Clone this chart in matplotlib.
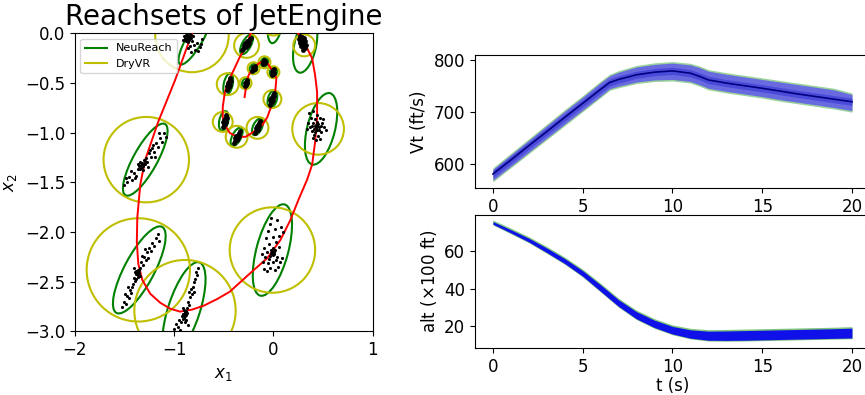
import numpy as np
import matplotlib
matplotlib.use("Agg")
import matplotlib.pyplot as plt
from matplotlib.patches import Ellipse, Circle
from matplotlib.lines import Line2D

# ---------------- left panel data ----------------
# reference trajectory (red)
traj_x = [-0.82, -0.99, -1.16, -1.29, -1.34, -1.37, -1.375, -1.36, -1.32, -1.24, -1.14, -1.04, -0.94, -0.82,
          -0.70, -0.56, -0.44, -0.23, -0.06, 0.07, 0.17, 0.25, 0.34, 0.39, 0.42, 0.44, 0.44, 0.42,
          0.39, 0.34, 0.29, 0.25, 0.18, 0.08, -0.02, -0.12, -0.20, -0.23,
          -0.27, -0.34, -0.40, -0.46, -0.49, -0.51, -0.51, -0.49, -0.44, -0.37, -0.28, -0.20,
          -0.11, -0.06, -0.01, 0.02, 0.03, 0.00, -0.06, -0.13, -0.20, -0.25, -0.27, -0.29]
traj_y = [0.00, -0.47, -0.89, -1.27, -1.52, -1.85, -2.10, -2.32, -2.48, -2.62, -2.71, -2.77, -2.80, -2.78,
          -2.74, -2.67, -2.60, -2.41, -2.26, -2.08, -1.88, -1.68, -1.47, -1.32, -1.09, -0.85, -0.59, -0.42,
          -0.25, -0.15, -0.05, 0.00, 0.08, 0.12, 0.12, 0.08, 0.03, 0.00,
          -0.12, -0.24, -0.37, -0.49, -0.60, -0.74, -0.84, -0.92, -1.00, -1.04, -1.04, -0.99,
          -0.92, -0.84, -0.70, -0.57, -0.45, -0.39, -0.30, -0.29, -0.34, -0.42, -0.50, -0.64]

# NeuReach ellipses: centre x, centre y, semi-major, semi-minor, angle (deg)
nr_cx = [-0.79, -1.29, -1.35, -0.90, -0.01, 0.48, 0.32, 0.02, -0.27, -0.455, -0.50, -0.37, -0.16, -0.01, 0.00, -0.09, -0.20, -0.28]
nr_cy = [-0.05, -1.27, -2.38, -2.78, -2.18, -0.96, -0.12, 0.10, -0.11, -0.51, -0.88, -1.04, -0.94, -0.66, -0.39, -0.29, -0.35, -0.50]
nr_a = [0.30, 0.41, 0.49, 0.50, 0.475, 0.37, 0.28, 0.20, 0.11, 0.11, 0.10, 0.10, 0.09, 0.09, 0.055, 0.05, 0.05, 0.05]
nr_b = [0.08, 0.12, 0.15, 0.16, 0.16, 0.14, 0.11, 0.07, 0.045, 0.045, 0.045, 0.045, 0.045, 0.045, 0.035, 0.035, 0.035, 0.035]
nr_ang = [60, 61, 62, 72, 75, 76, 78, 80, 62, 78, 78, 63, 65, 75, 75, 60, 60, 70]

# DryVR balls: centre x, centre y, radius
dv_cx = [-0.82, -1.28, -1.36, -0.89, -0.01, 0.45, 0.31, 0.00, -0.27, -0.46, -0.51, -0.37, -0.16, -0.01, 0.00, -0.09, -0.20, -0.28]
dv_cy = [-0.02, -1.27, -2.38, -2.79, -2.18, -0.96, -0.12, 0.09, -0.12, -0.51, -0.89, -1.04, -0.95, -0.66, -0.39, -0.29, -0.35, -0.50]
dv_r = [0.37, 0.43, 0.52, 0.51, 0.43, 0.26, 0.11, 0.11, 0.125, 0.11, 0.10, 0.11, 0.11, 0.09, 0.06, 0.06, 0.06, 0.06]

# sampled states (black dots), large reachsets
pts_big = [
    # cluster 1
    (-0.90,-0.03),(-0.88,-0.02),(-0.86,-0.04),(-0.84,-0.03),(-0.87,-0.06),(-0.85,-0.07),(-0.83,-0.05),
    (-0.89,-0.05),(-0.82,-0.08),(-0.86,-0.09),(-0.91,-0.07),(-0.84,-0.01),(-0.81,-0.03),(-0.88,-0.08),
    (-0.80,-0.12),(-0.84,-0.13),(-0.77,-0.10),(-0.74,-0.14),(-0.79,-0.17),(-0.83,-0.19),(-0.72,-0.06),
    (-0.76,-0.18),(-0.86,-0.15),(-0.73,-0.11),(-0.87,-0.02),(-0.85,-0.05),(-0.89,-0.07),(-0.83,-0.02),
    # cluster 2
    (-1.50,-1.53),(-1.47,-1.50),(-1.45,-1.44),(-1.42,-1.47),(-1.40,-1.40),(-1.38,-1.43),(-1.36,-1.36),
    (-1.35,-1.33),(-1.33,-1.35),(-1.32,-1.30),(-1.31,-1.33),(-1.30,-1.27),(-1.29,-1.31),(-1.28,-1.25),
    (-1.27,-1.29),(-1.25,-1.20),(-1.23,-1.24),(-1.22,-1.15),(-1.20,-1.19),(-1.18,-1.10),(-1.16,-1.14),
    (-1.14,-1.05),(-1.12,-1.09),(-1.10,-1.00),(-1.08,-1.04),(-1.34,-1.29),(-1.36,-1.31),(-1.31,-1.37),
    (-1.26,-1.34),(-1.24,-1.17),(-1.43,-1.38),(-1.48,-1.45),(-1.19,-1.24),(-1.15,-1.00),
    (-1.33,-1.32),(-1.32,-1.34),(-1.30,-1.31),(-1.34,-1.36),(-1.29,-1.28),(-1.39,-1.45),(-1.21,-1.12),
    # cluster 3
    (-1.52,-2.75),(-1.50,-2.70),(-1.48,-2.72),(-1.47,-2.64),(-1.45,-2.66),(-1.44,-2.58),(-1.43,-2.61),
    (-1.41,-2.52),(-1.40,-2.46),(-1.39,-2.49),(-1.38,-2.42),(-1.37,-2.40),(-1.36,-2.43),(-1.36,-2.38),
    (-1.35,-2.41),(-1.34,-2.36),(-1.33,-2.30),(-1.31,-2.33),(-1.30,-2.25),(-1.28,-2.28),(-1.27,-2.20),
    (-1.25,-2.16),(-1.23,-2.19),(-1.22,-2.11),(-1.20,-2.14),(-1.18,-2.06),(-1.16,-2.02),(-1.15,-2.09),
    (-1.38,-2.39),(-1.40,-2.36),(-1.34,-2.44),(-1.42,-2.55),(-1.29,-2.17),(-1.46,-2.55),(-1.26,-2.26),
    (-1.37,-2.42),(-1.39,-2.40),(-1.36,-2.45),(-1.38,-2.47),(-1.35,-2.38),(-1.49,-2.62),(-1.32,-2.24),
    # cluster 4
    (-1.00,-2.97),(-0.98,-2.92),(-0.96,-2.95),(-0.95,-2.88),(-0.93,-2.90),(-0.92,-2.84),(-0.91,-2.82),
    (-0.90,-2.86),(-0.89,-2.80),(-0.88,-2.83),(-0.90,-2.78),(-0.87,-2.76),(-0.88,-2.88),(-0.86,-2.70),
    (-0.85,-2.73),(-0.84,-2.65),(-0.82,-2.62),(-0.83,-2.57),(-0.81,-2.55),(-0.80,-2.50),(-0.79,-2.47),
    (-0.77,-2.43),(-0.78,-2.40),(-0.76,-2.36),(-0.94,-2.99),(-0.86,-2.93),(-0.91,-2.76),(-0.85,-2.60),
    (-0.80,-2.60),(-0.89,-2.90),(-0.90,-2.82),(-0.88,-2.79),(-0.89,-2.84),(-0.91,-2.87),(-0.87,-2.81),
    # cluster 5
    (-0.09,-2.37),(-0.06,-2.39),(-0.03,-2.36),(0.02,-2.38),(0.05,-2.35),(-0.10,-2.30),(-0.05,-2.31),
    (0.00,-2.30),(0.07,-2.30),(-0.08,-2.25),(-0.03,-2.24),(0.01,-2.22),(0.04,-2.25),(-0.06,-2.20),
    (-0.01,-2.19),(0.02,-2.18),(-0.02,-2.21),(0.00,-2.16),(-0.09,-2.16),(0.06,-2.15),(-0.04,-2.12),
    (0.03,-2.10),(-0.07,-2.06),(0.00,-2.05),(0.06,-2.04),(-0.05,-1.99),(0.02,-1.97),(0.08,-1.95),
    (-0.03,-1.92),(0.04,-1.88),(-0.02,-1.86),(0.10,-2.00),(0.09,-2.26),(-0.11,-2.22),
    (-0.01,-2.22),(0.01,-2.20),(-0.02,-2.18),(0.00,-2.23),(-0.04,-2.27),(0.03,-2.28),
    # cluster 6
    (0.36,-0.80),(0.40,-0.78),(0.44,-0.82),(0.38,-0.85),(0.42,-0.86),(0.47,-0.85),(0.35,-0.90),
    (0.40,-0.90),(0.44,-0.89),(0.49,-0.90),(0.37,-0.94),(0.42,-0.93),(0.46,-0.94),(0.51,-0.94),
    (0.39,-0.98),(0.44,-0.97),(0.48,-0.99),(0.53,-0.97),(0.41,-1.02),(0.45,-1.03),(0.43,-1.07),
    (0.40,-1.05),(0.47,-1.06),(0.43,-0.92),(0.45,-0.91),(0.41,-0.96),(0.50,-0.86),(0.34,-0.96),
    (0.43,-0.95),(0.46,-0.97),(0.44,-0.93),(0.39,-0.93),(0.48,-0.93),(0.42,-0.99),
]
# sampled states, small reachsets (dense blobs)
pts_small = [
    # cluster 7
    (0.27,-0.03),(0.29,-0.04),(0.31,-0.05),(0.26,-0.06),(0.28,-0.07),(0.30,-0.08),(0.32,-0.08),
    (0.27,-0.10),(0.29,-0.10),(0.31,-0.11),(0.33,-0.12),(0.28,-0.13),(0.30,-0.14),(0.32,-0.15),
    (0.30,-0.17),(0.29,-0.06),(0.31,-0.13),(0.27,-0.08),
    # cluster 9
    (-0.31,-0.16),(-0.30,-0.14),(-0.29,-0.13),(-0.28,-0.11),(-0.27,-0.10),(-0.26,-0.09),(-0.25,-0.07),
    (-0.24,-0.06),(-0.30,-0.12),(-0.28,-0.14),(-0.26,-0.12),(-0.27,-0.08),(-0.29,-0.10),(-0.25,-0.10),
    (-0.32,-0.17),(-0.23,-0.05),
    # cluster 10
    (-0.47,-0.57),(-0.46,-0.55),(-0.46,-0.53),(-0.45,-0.51),(-0.45,-0.49),(-0.44,-0.47),(-0.44,-0.45),
    (-0.46,-0.50),(-0.44,-0.52),(-0.45,-0.54),(-0.47,-0.53),(-0.43,-0.48),
    # cluster 11
    (-0.51,-0.94),(-0.50,-0.92),(-0.50,-0.90),(-0.49,-0.88),(-0.49,-0.86),(-0.48,-0.84),(-0.48,-0.82),
    (-0.50,-0.87),(-0.48,-0.89),(-0.49,-0.91),(-0.51,-0.89),(-0.47,-0.85),
    # cluster 12
    (-0.40,-1.10),(-0.39,-1.08),(-0.38,-1.06),(-0.37,-1.04),(-0.36,-1.02),(-0.35,-1.00),(-0.34,-0.98),
    (-0.38,-1.03),(-0.36,-1.05),(-0.37,-1.07),(-0.39,-1.05),(-0.35,-1.03),
    # cluster 13
    (-0.19,-1.00),(-0.18,-0.98),(-0.17,-0.96),(-0.16,-0.94),(-0.15,-0.92),(-0.14,-0.90),(-0.13,-0.88),
    (-0.17,-0.93),(-0.15,-0.95),(-0.16,-0.97),(-0.18,-0.95),(-0.14,-0.93),
    # cluster 14
    (-0.03,-0.72),(-0.02,-0.70),(-0.02,-0.68),(-0.01,-0.66),(0.00,-0.64),(0.00,-0.62),(0.01,-0.60),
    (-0.02,-0.65),(0.00,-0.67),(-0.01,-0.69),(-0.03,-0.67),(0.01,-0.63),
    # clusters 15-18
    (-0.01,-0.42),(0.00,-0.40),(0.00,-0.38),(0.01,-0.36),(-0.01,-0.39),(0.01,-0.40),(0.00,-0.41),(0.00,-0.37),
    (-0.10,-0.31),(-0.09,-0.30),(-0.08,-0.28),(-0.09,-0.27),(-0.10,-0.29),(-0.08,-0.30),(-0.09,-0.29),
    (-0.22,-0.38),(-0.21,-0.36),(-0.20,-0.34),(-0.19,-0.33),(-0.21,-0.34),(-0.19,-0.36),(-0.20,-0.36),
    (-0.29,-0.53),(-0.28,-0.51),(-0.28,-0.49),(-0.27,-0.47),(-0.29,-0.50),(-0.27,-0.50),(-0.28,-0.52),
]
big_x = [p[0] for p in pts_big]
big_y = [p[1] for p in pts_big]
small_x = [p[0] for p in pts_small]
small_y = [p[1] for p in pts_small]

# ---------------- right panels data ----------------
t_vals = [0, 1, 2, 3, 4, 5, 6, 6.5, 7, 8, 9, 10, 11, 11.5, 12, 13, 14, 15, 16, 17, 18, 19, 20]
vt_mid = [581, 608, 635.5, 662.7, 690, 717, 744, 757, 763, 772, 777, 779.5, 775, 769, 762,
          756, 751, 746, 740.5, 735, 730, 725, 720]
vt_up = [593, 621, 649, 677, 705, 732, 760, 773, 780, 790, 795, 797.5, 794, 789, 782,
         776, 771, 766, 761, 756, 751, 746, 737]
vt_lo = [566, 593, 620, 647, 674, 701, 728, 742, 747, 755, 759, 760, 756, 750, 743,
         737, 732, 727, 721, 716, 711, 706, 700]

t_alt = [0, 1, 2, 3, 4, 5, 6, 7, 8, 9, 10, 11, 12, 13, 14, 15, 16, 17, 18, 19, 20]
alt_mid = [75.0, 70.5, 65.8, 60.5, 54.8, 48.2, 40.5, 32.5, 26.0, 21.5, 18.2, 16.2, 15.4,
           15.3, 15.4, 15.6, 15.8, 16.0, 16.2, 16.4, 16.6]
alt_up = [76.3, 72.0, 67.5, 62.3, 56.7, 50.3, 42.8, 34.9, 28.6, 24.1, 20.8, 19.0, 18.3,
          18.4, 18.6, 18.8, 19.0, 19.2, 19.4, 19.6, 19.9]
alt_lo = [73.7, 69.1, 64.3, 58.7, 52.9, 46.2, 38.2, 30.2, 23.6, 19.0, 15.6, 13.4, 12.3,
          12.2, 12.3, 12.5, 12.7, 12.9, 13.1, 13.3, 13.5]

# ---------------- figure ----------------
fig = plt.figure(figsize=(8.65, 3.95), dpi=100)

ax = fig.add_axes([0.0864, 0.1603, 0.3445, 0.7554])
for cx, cy, a, b, ang in zip(nr_cx, nr_cy, nr_a, nr_b, nr_ang):
    ax.add_patch(Ellipse((cx, cy), 2 * a, 2 * b, angle=ang, fill=False,
                         edgecolor='g', lw=1.5, zorder=2))
for cx, cy, r in zip(dv_cx, dv_cy, dv_r):
    ax.add_patch(Circle((cx, cy), r, fill=False, edgecolor='y', lw=1.5, zorder=2))
ax.plot(traj_x, traj_y, color='r', lw=1.4, zorder=3)
ax.scatter(big_x, big_y, s=5, c='k', marker='o', linewidths=0, zorder=4)
ax.scatter(small_x, small_y, s=12, c='k', marker='o', linewidths=0, zorder=4)
ax.set_xlim(-2, 1)
ax.set_ylim(-3, 0)
ax.set_aspect('equal')
ax.set_xticks([-2, -1, 0, 1])
ax.set_yticks([0.0, -0.5, -1.0, -1.5, -2.0, -2.5, -3.0])
ax.tick_params(labelsize=12)
ax.set_xlabel('$x_1$', fontsize=12)
ax.set_ylabel('$x_2$', fontsize=12)
ax.set_title('Reachsets of JetEngine', fontsize=20)
handles = [Line2D([], [], color='g', lw=1.5), Line2D([], [], color='y', lw=1.5)]
ax.legend(handles, ['NeuReach', 'DryVR'], loc='upper left', fontsize=8)

# top right
ax1 = fig.add_axes([0.5491, 0.524, 0.4566, 0.3367])
ax1.fill_between(t_vals, vt_lo, vt_up, color='#8fcf8f', alpha=0.9, lw=0)
ax1.fill_between(t_vals, [l + 3 for l in vt_lo], [u - 3 for u in vt_up],
                 color='#6a6ae0', alpha=1.0, lw=0)
ax1.fill_between(t_vals, [m - 7 for m in vt_mid], [m + 7 for m in vt_mid],
                 color='#4444d8', alpha=0.8, lw=0)
ax1.plot(t_vals, vt_mid, color='#000080', lw=1.2)
ax1.set_xlim(-1, 21)
ax1.set_ylim(554, 810)
ax1.set_xticks([0, 5, 10, 15, 20])
ax1.set_yticks([600, 700, 800])
ax1.tick_params(labelsize=12)
ax1.set_ylabel('Vt (ft/s)', fontsize=12)

# bottom right
ax2 = fig.add_axes([0.5491, 0.119, 0.4566, 0.3367])
ax2.fill_between(t_alt, alt_lo, alt_up, color='#6fbf6f', alpha=0.9, lw=0)
ax2.fill_between(t_alt, [l + 0.4 for l in alt_lo], [u - 0.8 for u in alt_up],
                 color='#1010e8', lw=0)
ax2.set_xlim(-1, 21)
ax2.set_ylim(8.6, 79)
ax2.set_xticks([0, 5, 10, 15, 20])
ax2.set_yticks([20, 40, 60])
ax2.tick_params(labelsize=12)
ax2.set_ylabel(r'alt ($\times$100 ft)', fontsize=12)
ax2.set_xlabel('t (s)', fontsize=12, labelpad=1)

fig.savefig('out.png', dpi=100)
